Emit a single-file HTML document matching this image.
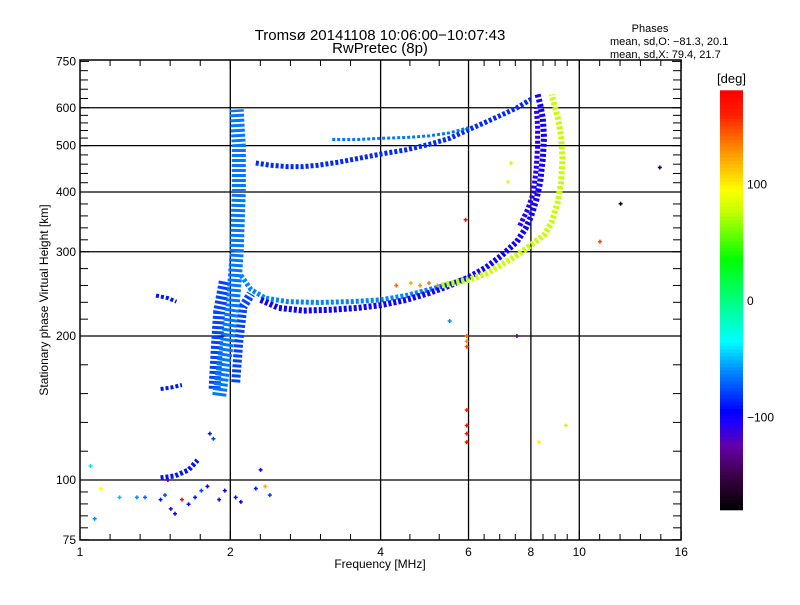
<!DOCTYPE html>
<html><head><meta charset="utf-8">
<style>
html,body{margin:0;padding:0;background:#fff;}
svg text{font-family:"Liberation Sans","DejaVu Sans",sans-serif;fill:#000;}
</style></head>
<body>
<svg id="chart" width="800" height="600" viewBox="0 0 800 600" xmlns="http://www.w3.org/2000/svg">
<rect x="0" y="0" width="800" height="600" fill="#fff"/>
<text x="380" y="40" font-size="15" text-anchor="middle">Tromsø 20141108 10:06:00−10:07:43</text>
<text x="380" y="53" font-size="15" text-anchor="middle">RwPretec (8p)</text>
<text x="650" y="32" font-size="11" text-anchor="middle">Phases</text>
<text x="610" y="45" font-size="11">mean, sd,O: −81.3, 20.1</text>
<text x="610" y="58" font-size="11">mean, sd,X:  79.4, 21.7</text>
<g id="grid"></g>
<g id="marks"></g>
<g id="axes"></g>
<text x="380" y="568" font-size="12" text-anchor="middle">Frequency [MHz]</text>
<text x="48" y="300" font-size="12" text-anchor="middle" transform="rotate(-90 48 300)">Stationary phase Virtual Height [km]</text>
<g id="cbar"></g>
</svg>
<script>
// axis tick labels
const xLabels = [1, 2, 4, 6, 8, 10, 16];
const xMinorPerInterval = [4, 4, 2, 3, 3, 4];
const yLabels = [75, 100, 200, 300, 400, 500, 600, 750];
const xGridValues = [2, 4, 6, 8, 10];
const yGridValues = [100, 200, 300, 400, 500, 600];
const cbarLabels = [100, 0, -100];

// traces: frequency (MHz), virtual height (km), phase (deg)
const traceOLowFreq = [2.1, 2.2, 2.35, 2.6, 3.0, 3.5, 4.0, 4.5, 5.0, 5.5, 6.0];
const traceOLowHeight = [268, 250, 240, 236, 235, 236, 238, 243, 250, 257, 265];
const traceOLowPhase = -62;
const traceOFreq = [2.3, 2.5, 2.8, 3.2, 3.6, 4.0, 4.5, 5.0, 5.5, 6.0, 6.5, 7.0, 7.5, 7.8, 8.0, 8.2, 8.35, 8.45, 8.5, 8.45, 8.35, 8.25];
const traceOHeight = [238, 229, 226, 227, 229, 232, 238, 246, 255, 265, 278, 295, 315, 335, 355, 385, 420, 470, 520, 570, 610, 640];
const traceOPhase = -100;
const traceO2Freq = [7.6, 7.9, 8.1, 8.2, 8.25, 8.25, 8.2];
const traceO2Height = [340, 370, 400, 450, 500, 550, 600];
const traceO2Phase = -108;
const traceXFreq = [5.3, 6.0, 6.5, 7.0, 7.5, 8.0, 8.5, 8.8, 9.05, 9.2, 9.25, 9.2, 9.1, 8.95, 8.8];
const traceXHeight = [255, 262, 270, 282, 295, 310, 325, 345, 380, 420, 470, 520, 560, 600, 640];
const traceXPhase = 78;
const traceUpperFreq = [2.25, 2.4, 2.6, 2.8, 3.0, 3.3, 3.6, 4.0, 4.5, 5.0, 5.5, 6.0, 6.5, 7.0, 7.5, 8.0];
const traceUpperHeight = [460, 455, 452, 452, 455, 462, 470, 480, 490, 503, 518, 540, 560, 580, 600, 625];
const traceUpperPhase = -85;
const traceUpper2Freq = [3.2, 3.6, 4.0, 4.5, 5.0, 5.5, 6.0];
const traceUpper2Height = [515, 515, 518, 520, 524, 532, 545];
const traceUpper2Phase = -65;
const spreadFreq = [1.9, 1.94, 1.98, 2.02, 2.04, 2.06, 2.07, 2.08, 2.08, 2.08, 2.07, 2.06];
const spreadHeight = [150, 175, 200, 230, 260, 300, 350, 400, 450, 500, 540, 595];
const spreadPhase = -65;
const spreadLeftFreq = [1.86, 1.88, 1.9, 1.95];
const spreadLeftHeight = [155, 190, 225, 260];
const spreadRightFreq = [2.05, 2.08, 2.12, 2.2];
const spreadRightHeight = [160, 195, 230, 245];
const spreadSidePhase = -78;
const bitAFreq = [1.42, 1.5, 1.56];
const bitAHeight = [243, 240, 236];
const bitBFreq = [1.45, 1.52, 1.6];
const bitBHeight = [155, 156, 158];
const bitEFreq = [1.45, 1.55, 1.65, 1.72];
const bitEHeight = [101, 102, 105, 110];
const bitPhase = -90;

// isolated points
const ptFreq = [1.07,1.05,1.1,1.2,1.3,1.35,1.45,1.48,1.5,1.52,1.55,1.6,1.65,1.7,1.75,1.8,1.9,1.95,2.05,2.1,2.25,2.35,2.4,2.3,1.82,1.85,
  11,12.1,14.5,5.92,5.95,5.95,5.95,5.95,5.95,5.95,5.95,7.5,7.2,7.3,8.3,9.4,5.5,4.3,4.6,4.8,5.0,5.2];
const ptHeight = [83,107,96,92,92,92,91,93,100,87,85,91,89,92,95,97,91,95,92,90,96,97,93,105,125,122,
  315,378,450,350,200,195,190,140,130,125,120,200,420,460,120,130,215,255,258,255,258,255];
const ptPhase = [-60,-40,95,-50,-60,-70,-90,-75,-130,-110,-100,170,-100,-90,-80,-100,-100,-95,-90,-100,-90,120,-80,-100,-90,-80,
  150,-170,-160,170,140,130,150,160,170,165,170,-130,100,80,100,80,-60,140,120,130,135,130];

const X0 = 80, PXOCT = 150.3, Y0 = 480, PYOCT = 144;
const LEFT = 80, RIGHT = 681, TOP = 60, BOTTOM = 540;
function xs(f){ return X0 + PXOCT * Math.log2(f); }
function ys(h){ return Y0 - PYOCT * Math.log2(h / 100); }

const stops = [[-180,[0,0,0]],[-150,[60,0,70]],[-125,[100,0,170]],[-105,[30,0,255]],[-95,[0,0,255]],[-60,[0,140,255]],[-35,[0,255,255]],[0,[0,255,128]],[35,[0,255,0]],[75,[190,255,0]],[95,[255,255,0]],[130,[255,140,0]],[160,[255,30,0]],[180,[255,0,0]]];
function phaseColor(p){
  for (let i=1;i<stops.length;i++){
    if (p<=stops[i][0]){
      const a=stops[i-1], b=stops[i], t=(p-a[0])/(b[0]-a[0]);
      const c=a[1].map((v,k)=>Math.round(v+(b[1][k]-v)*t));
      return 'rgb('+c.join(',')+')';
    }
  }
  return 'rgb(255,0,0)';
}
const NS='http://www.w3.org/2000/svg';
function mk(tag, attrs, parent){
  const e=document.createElementNS(NS,tag);
  for (const k in attrs) e.setAttribute(k, attrs[k]);
  parent.appendChild(e); return e;
}
const grid=document.getElementById('grid'), marks=document.getElementById('marks'), axes=document.getElementById('axes'), cbar=document.getElementById('cbar');

xGridValues.forEach(v=>{
  const l=mk('line',{x1:xs(v),x2:xs(v),y1:TOP,y2:BOTTOM,stroke:'#000','stroke-width':1.3},grid);
  
  
});
yGridValues.forEach(v=>{
  const l=mk('line',{x1:LEFT,x2:RIGHT,y1:ys(v),y2:ys(v),stroke:'#000','stroke-width':1.3},grid);
  
  
});

function trace(fr, hs, phase, w, name){
  const pts=fr.map((f,i)=>xs(f).toFixed(1)+','+ys(hs[i]).toFixed(1)).join(' ');
  const p=mk('polyline',{points:pts,fill:'none',stroke:phaseColor(phase),'stroke-width':w,'stroke-linejoin':'round','stroke-linecap':'butt','stroke-dasharray':'3 2'},marks);
  
  
}
trace(spreadLeftFreq, spreadLeftHeight, spreadSidePhase, 12, 'spread-left-trace');
trace(spreadRightFreq, spreadRightHeight, spreadSidePhase, 9, 'spread-right-trace');
trace(spreadFreq, spreadHeight, spreadPhase, 14, 'spread-f-trace');
trace(traceUpperFreq, traceUpperHeight, traceUpperPhase, 5, 'upper-trace');
trace(traceUpper2Freq, traceUpper2Height, traceUpper2Phase, 3, 'upper-trace-2');
trace(traceOLowFreq, traceOLowHeight, traceOLowPhase, 5, 'o-mode-low-trace');
trace(traceOFreq, traceOHeight, traceOPhase, 6, 'o-mode-trace');
trace(traceO2Freq, traceO2Height, traceO2Phase, 5, 'o-mode-inner-trace');
trace(traceXFreq, traceXHeight, traceXPhase, 6, 'x-mode-trace');
trace(bitAFreq, bitAHeight, bitPhase, 4, 'fragment-240km');
trace(bitBFreq, bitBHeight, bitPhase, 4, 'fragment-155km');
trace(bitEFreq, bitEHeight, bitPhase, 5, 'e-region-trace');

ptFreq.forEach((f,i)=>{
  const x=xs(f), y=ys(ptHeight[i]), c=phaseColor(ptPhase[i]);
  const p=mk('path',{d:`M${x-2},${y}H${x+2}M${x},${y-2}V${y+2}`,stroke:c,'stroke-width':1.5,fill:'none'},marks);
  
  
});

// axes frame
const frame=mk('rect',{x:LEFT,y:TOP,width:RIGHT-LEFT,height:BOTTOM-TOP,fill:'none',stroke:'#000','stroke-width':1.5},axes);



function tickLine(x1,y1,x2,y2){
  const l=mk('line',{x1,y1,x2,y2,stroke:'#000','stroke-width':1},axes);
  
  
}
// x ticks
xLabels.forEach((v,i)=>{
  const x=xs(v);
  tickLine(x,BOTTOM,x,BOTTOM-9); tickLine(x,TOP,x,TOP+9);
  const t=mk('text',{x:x,y:BOTTOM+16,'font-size':12,'text-anchor':'middle'},axes);
  t.textContent=v;
  
  
  if (i<xLabels.length-1){
    const n=xMinorPerInterval[i], a=Math.log2(v), b=Math.log2(xLabels[i+1]);
    for(let k=1;k<=n;k++){
      const xx=X0+PXOCT*(a+(b-a)*k/(n+1));
      tickLine(xx,BOTTOM,xx,BOTTOM-6); tickLine(xx,TOP,xx,TOP+6);
    }
  }
});
// y ticks
yLabels.forEach((v,i)=>{
  const y=ys(v);
  tickLine(LEFT,y,LEFT+9,y); tickLine(RIGHT,y,RIGHT-9,y);
  const t=mk('text',{x:LEFT-4,y:y+4,'font-size':12,'text-anchor':'end'},axes);
  t.textContent=v;
  
  
  if (i<yLabels.length-1){
    const a=Math.log2(v), b=Math.log2(yLabels[i+1]);
    for(let k=1;k<=4;k++){
      const yy=Y0-PYOCT*(a+(b-a)*k/5-Math.log2(100));
      tickLine(LEFT,yy,LEFT+8,yy); tickLine(RIGHT,yy,RIGHT-8,yy);
    }
  }
});

// colorbar
const CB_X=720, CB_W=23;
function cy(p){ return 300 - p*1.165; }
for(let p=-180;p<180;p+=3){
  const r=mk('rect',{x:CB_X,y:cy(p+3).toFixed(2),width:CB_W,height:(3*1.165+0.6).toFixed(2),fill:phaseColor(p+1.5)},cbar);
  
  
}
cbarLabels.forEach(v=>{
  const t=mk('text',{x:CB_X+CB_W+4,y:cy(v)+5,'font-size':12},cbar);
  t.textContent=(v<0?'−':'')+Math.abs(v);
  
  
});
const unit=mk('text',{x:CB_X+CB_W/2,y:83,'font-size':13,'text-anchor':'middle'},cbar);
unit.textContent='[deg]';


</script>
</body></html>
